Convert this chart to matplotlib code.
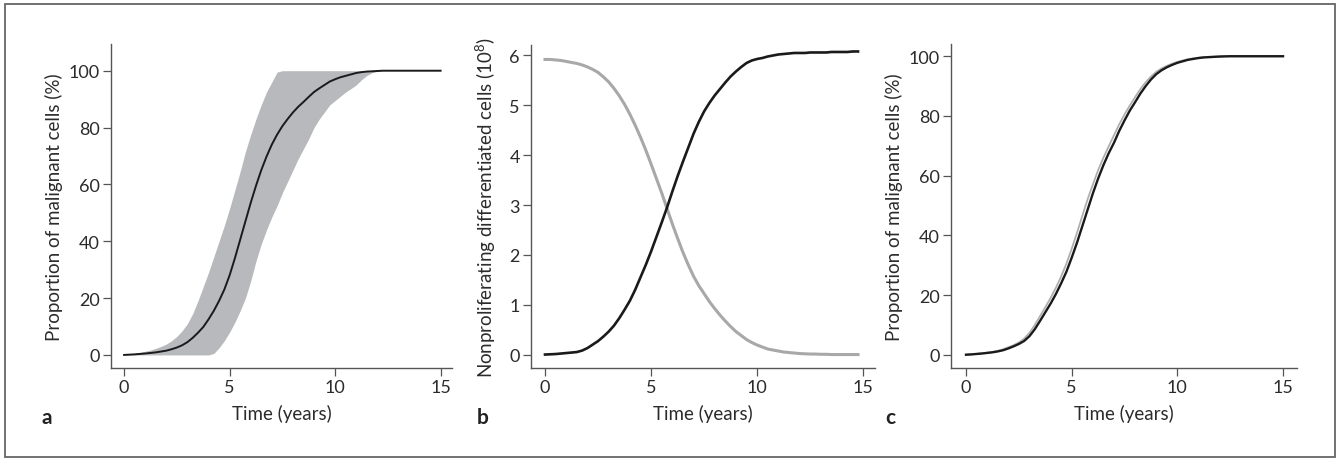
import numpy as np
import matplotlib
matplotlib.use("Agg")
import matplotlib.pyplot as plt
from matplotlib.patches import Rectangle

plt.rcParams['font.family'] = ['Lato', 'DejaVu Sans']
plt.rcParams['mathtext.default'] = 'regular'

# time grid (years), values read every quarter year
t = np.linspace(0, 15, 61)

# panel a: mean and envelope (%)
a_mean = [0, 0.1, 0.2, 0.35, 0.5, 0.7, 0.9, 1.2, 1.5, 2.0, 2.6, 3.4,
          4.5, 6.0, 7.8, 9.8, 12.5, 15.5, 19, 23, 28, 34, 40.5, 47,
          53.5, 59.5, 65, 69.8, 74, 77.5, 80.5, 83, 85.3, 87.3, 89, 90.8,
          92.5, 93.8, 95, 96.2, 97, 97.7, 98.2, 98.7, 99.2, 99.5, 99.7, 99.8,
          99.9, 100, 100, 100, 100, 100, 100, 100, 100, 100, 100, 100,
          100]
a_high = [0, 0.2, 0.5, 0.9, 1.3, 1.7, 2.3, 3.0, 3.8, 5.0, 6.5, 8.5,
          11, 14.5, 19, 24, 29, 34.5, 40, 45.5, 51.5, 58, 64.5, 71.5,
          77.5, 83, 88, 92.5, 96, 99.5, 100, 100, 100, 100, 100, 100,
          100, 100, 100, 100, 100, 100, 100, 100, 100, 100, 100, 100,
          100, 100, 100, 100, 100, 100, 100, 100, 100, 100, 100, 100,
          100]
a_low = [0, 0, 0, 0, 0, 0, 0, 0, 0, 0, 0, 0,
         0, 0, 0, 0, 0, 0.5, 2.5, 5, 8, 11.5, 15.5, 20,
         26, 33, 39, 44, 48.5, 52.5, 57, 61, 65, 69, 72.5, 76,
         80, 83, 85.5, 88, 89.5, 91, 92.5, 93.7, 95, 96.8, 98.3, 99.3,
         99.8, 100, 100, 100, 100, 100, 100, 100, 100, 100, 100, 100,
         100]

# panel b: nonproliferating differentiated cells (10^8)
b_malig = [0, 0.005, 0.01, 0.02, 0.03, 0.04, 0.05, 0.08, 0.13, 0.2, 0.27, 0.36,
           0.46, 0.58, 0.73, 0.9, 1.08, 1.3, 1.55, 1.8, 2.07, 2.36, 2.65, 2.95,
           3.27, 3.58, 3.87, 4.15, 4.43, 4.67, 4.88, 5.05, 5.2, 5.33, 5.46, 5.58,
           5.68, 5.77, 5.85, 5.9, 5.93, 5.95, 5.98, 6.0, 6.02, 6.03, 6.04, 6.05,
           6.05, 6.05, 6.06, 6.06, 6.06, 6.06, 6.07, 6.07, 6.07, 6.07, 6.08, 6.08,
           6.08]
b_normal = [5.92, 5.92, 5.91, 5.9, 5.88, 5.86, 5.84, 5.81, 5.77, 5.72, 5.66, 5.57,
            5.47, 5.34, 5.19, 5.02, 4.82, 4.6, 4.36, 4.1, 3.82, 3.53, 3.24, 2.93,
            2.62, 2.33, 2.05, 1.8, 1.57, 1.38, 1.22, 1.06, 0.92, 0.79, 0.67, 0.56,
            0.46, 0.38, 0.3, 0.24, 0.19, 0.15, 0.11, 0.09, 0.07, 0.05, 0.04, 0.03,
            0.02, 0.015, 0.01, 0.01, 0.005, 0.005, 0, 0, 0, 0, 0, 0,
            0]

# panel c: two model runs (%)
c_black = [0, 0.1, 0.25, 0.4, 0.6, 0.8, 1.1, 1.5, 2.1, 2.8, 3.6, 4.6,
           6.2, 8.5, 11.3, 14.2, 17.1, 20.3, 23.9, 27.8, 32.5, 37.5, 43, 48.5,
           54, 59, 63.5, 67.5, 71, 75, 78.5, 81.8, 84.6, 87.5, 90, 92.2,
           94, 95.3, 96.3, 97.1, 97.8, 98.3, 98.8, 99.1, 99.4, 99.6, 99.7, 99.8,
           99.9, 99.95, 100, 100, 100, 100, 100, 100, 100, 100, 100, 100,
           100]
c_grey = [0, 0.15, 0.3, 0.5, 0.7, 0.95, 1.3, 1.8, 2.5, 3.2, 4.1, 5.4,
          7.3, 9.9, 12.9, 15.9, 19, 22.4, 26.2, 30.5, 35.5, 40.8, 46.5, 52,
          57, 61.8, 66, 69.8, 73.5, 77.2, 80.5, 83.5, 86.3, 89, 91.3, 93.2,
          94.8, 95.9, 96.8, 97.5, 98.1, 98.6, 99, 99.3, 99.5, 99.7, 99.8, 99.85,
          99.9, 100, 100, 100, 100, 100, 100, 100, 100, 100, 100, 100,
          100]

W, H = 1338, 460
fig = plt.figure(figsize=(W / 100, H / 100), dpi=100)

def px_axes(l, r, top, bot):
    return fig.add_axes([l / W, (H - bot) / H, (r - l) / W, (bot - top) / H])

txt = '#2b2b2b'
spine = '#555555'

def style(ax, ypad):
    for s in ['top', 'right']:
        ax.spines[s].set_visible(False)
    for s in ['left', 'bottom']:
        ax.spines[s].set_color(spine)
        ax.spines[s].set_linewidth(1.0)
    ax.tick_params(direction='out', length=5.5, width=0.9, color=spine,
                   labelcolor=txt, labelsize=13, pad=2.5)
    ax.set_xticks([0, 5, 10, 15])
    ax.set_xlabel('Time (years)', fontsize=13.5, color=txt, labelpad=6)
    ax.yaxis.labelpad = ypad

ax1 = px_axes(111, 452, 45, 369)
ax1.fill_between(t, a_low, a_high, color='#b8b9bc', lw=0)
ax1.plot(t, a_mean, color='#1a1a1a', lw=1.4)
ax1.set_xlim(-0.62, 15.54)
ax1.set_ylim(-4.6, 109.4)
ax1.set_yticks([0, 20, 40, 60, 80, 100])
ax1.set_ylabel('Proportion of malignant cells (%)', fontsize=13.5, color=txt)
style(ax1, 4)

ax2 = px_axes(531, 875, 46, 369)
ax2.plot(t[:60], b_normal[:60], color='#a8a8a8', lw=2.2)
ax2.plot(t[:60], b_malig[:60], color='#1a1a1a', lw=1.9)
ax2.set_xlim(-0.66, 15.55)
ax2.set_ylim(-0.27, 6.21)
ax2.set_yticks([0, 1, 2, 3, 4, 5, 6])
ax2.set_ylabel('Nonproliferating differentiated cells (10$^{8}$)', fontsize=13.5, color=txt)
style(ax2, 8)

ax3 = px_axes(951, 1297, 45, 369)
ax3.plot(t, c_grey, color='#b0b0b0', lw=1.3)
ax3.plot(t, c_black, color='#1a1a1a', lw=1.7)
ax3.set_xlim(-0.71, 15.66)
ax3.set_ylim(-4.45, 104.1)
ax3.set_yticks([0, 20, 40, 60, 80, 100])
ax3.set_ylabel('Proportion of malignant cells (%)', fontsize=13.5, color=txt)
style(ax3, 4)

for lab, x in [('a', 47), ('b', 483), ('c', 890)]:
    fig.text(x / W, (H - 418) / H, lab, fontsize=15, fontweight='bold',
             color='#222222', ha='center', va='center')

fig.patches.append(Rectangle((5 / W, 2 / H), 1330 / W, 453 / H, transform=fig.transFigure,
                             fill=False, edgecolor='#666666', lw=1.3))

fig.savefig('out.png', dpi=100)
